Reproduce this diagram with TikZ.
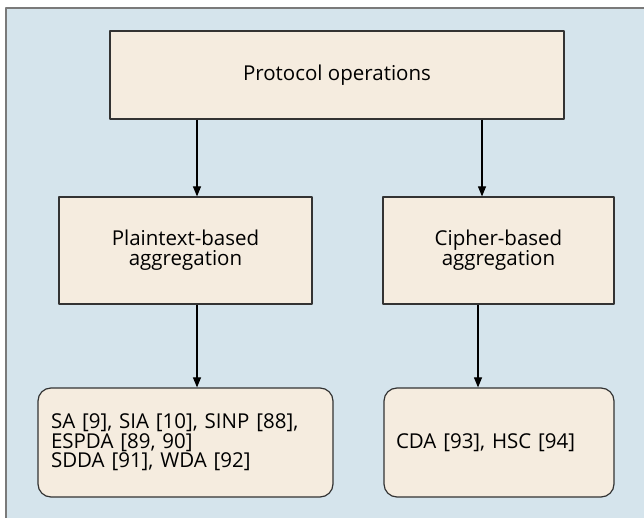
\documentclass[tikz,border=0pt]{standalone}
\usepackage{fontspec}
\setmainfont{Open Sans}
\usetikzlibrary{arrows.meta}
\definecolor{bgblue}{HTML}{D5E4EC}
\definecolor{boxfill}{HTML}{F5ECDF}
\definecolor{framegray}{HTML}{7A7A7A}
\tikzset{
  opbox/.style={draw=black!80, fill=boxfill, line width=1.2pt, align=center, inner sep=0pt,
    font=\fontsize{20.5}{20}\selectfont},
  refbox/.style={opbox, rounded corners=13pt},
  arr/.style={line width=1.1pt, -{Triangle[length=10pt,width=8pt]}}
}
\begin{document}
\begin{tikzpicture}[x=1pt, y=-1pt, line join=round]
			%Khung nền.
			\useasboundingbox (0,0) rectangle (644,518);
			\fill[bgblue] (6,8) rectangle (644,518);
			\draw[framegray, line width=2pt] (6,518)--(6,8)--(644,8);
			%Các hộp.
			\node[opbox, minimum width=454, minimum height=88] (ops) at (337,75) {Protocol operations};
			\node[opbox, minimum width=253, minimum height=107] (plain) at (185.5,250.5) {Plaintext-based\\aggregation};
			\node[opbox, minimum width=231, minimum height=107] (cipher) at (498.5,250.5) {Cipher-based\\aggregation};
			\node[refbox, minimum width=295, minimum height=109, align=left, text width=269,
				font=\fontsize{20.5}{19.5}\selectfont] (sa) at (185.5,442.5)
				{SA [9], SIA [10], SINP [88],\\ESPDA [89, 90]\\SDDA [91], WDA [92]};
			\node[refbox, minimum width=230, minimum height=109, align=left, text width=206] (cda) at (499,442.5)
				{CDA [93], HSC [94]};
			%Điểm đầu mũi tên.
			\coordinate (pin) at ([xshift=11.5]plain.north);
			\coordinate (cin) at ([xshift=-16.5]cipher.north);
			\coordinate (pout) at ([xshift=11.5]plain.south);
			\coordinate (cout) at ([xshift=-20.5]cipher.south);
			%Mũi tên.
			\draw[arr] (ops.south -| pin) -- (pin);
			\draw[arr] (ops.south -| cin) -- (cin);
			\draw[arr] (pout) -- (sa.north -| pout);
			\draw[arr] (cout) -- (cda.north -| cout);
\end{tikzpicture}
\end{document}
